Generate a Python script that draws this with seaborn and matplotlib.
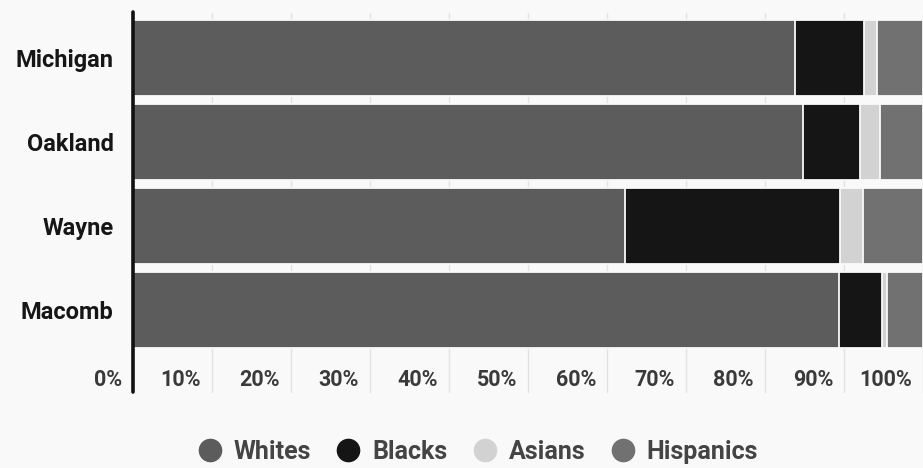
import matplotlib
matplotlib.use('Agg')
import matplotlib.pyplot as plt
from matplotlib.lines import Line2D
import seaborn as sns
import pandas as pd

regions = ['Michigan', 'Oakland', 'Wayne', 'Macomb']
groups = ['Whites', 'Blacks', 'Asians', 'Hispanics']
whites = [83.8, 84.8, 62.3, 89.4]
blacks = [8.7, 7.2, 27.2, 5.4]
asians = [1.7, 2.6, 2.9, 0.7]
hispanics = [5.8, 5.4, 7.6, 4.5]
colors = ['#5c5c5c', '#151515', '#d2d2d2', '#717171']
xticks = [0, 10, 20, 30, 40, 50, 60, 70, 80, 90, 100]

sns.set_theme(style='white')
plt.rcParams['font.family'] = ['Roboto', 'DejaVu Sans']

df = pd.DataFrame({'region': regions, 'Whites': whites, 'Blacks': blacks,
                   'Asians': asians, 'Hispanics': hispanics})
cum = df[groups].cumsum(axis=1)

fig = plt.figure(figsize=(9.23, 4.68), dpi=100)
fig.patch.set_facecolor('#f9f9f9')
ax = fig.add_axes([133 / 923, 1 - 352 / 468, 790 / 923, 336 / 468])
ax.set_facecolor('#f9f9f9')

# vertical grid lines, running down into the label row
for v in xticks[1:]:
    ax.axvline(v, ymin=-0.12, ymax=1.01, color='#e2e2e2', lw=1, zorder=0, clip_on=False)

# stacked bars: draw cumulative totals from the back
for g, c in zip(groups[::-1], colors[::-1]):
    sns.barplot(x=cum[g], y=df['region'], color=c, width=0.9, orient='h',
                edgecolor='#f9f9f9', linewidth=1.3, saturation=1, ax=ax, zorder=2)

ax.set_xlim(0, 100)
ax.set_ylim(3.5, -0.5)
ax.set_xlabel('')
ax.set_ylabel('')
for s in ax.spines.values():
    s.set_visible(False)
ax.axvline(0, ymin=-0.12, ymax=1.012, color='#111111', lw=2.6, zorder=5, clip_on=False)

ax.set_xticks([])
ax.tick_params(axis='y', length=0, pad=14, labelsize=17, labelcolor='#161616')
for lab in ax.get_yticklabels():
    lab.set_fontweight('bold')

for v in xticks:
    ax.annotate(f'{v}%', xy=(v, 0), xycoords=('data', 'axes fraction'),
                xytext=(-11, -28), textcoords='offset pixels', ha='right', va='center',
                fontsize=15.5, fontweight='bold', color='#3a3a3a')

handles = [Line2D([], [], marker='o', linestyle='', markersize=16, color=c) for c in colors]
fig.legend(handles, groups, loc='center', bbox_to_anchor=(0.516, 0.034), ncol=4,
           frameon=False, handletextpad=0.35, columnspacing=0.9, handlelength=1.2,
           labelcolor='#444444', prop={'weight': 'bold', 'size': 18})

fig.savefig('out.png', dpi=100, facecolor=fig.get_facecolor())
